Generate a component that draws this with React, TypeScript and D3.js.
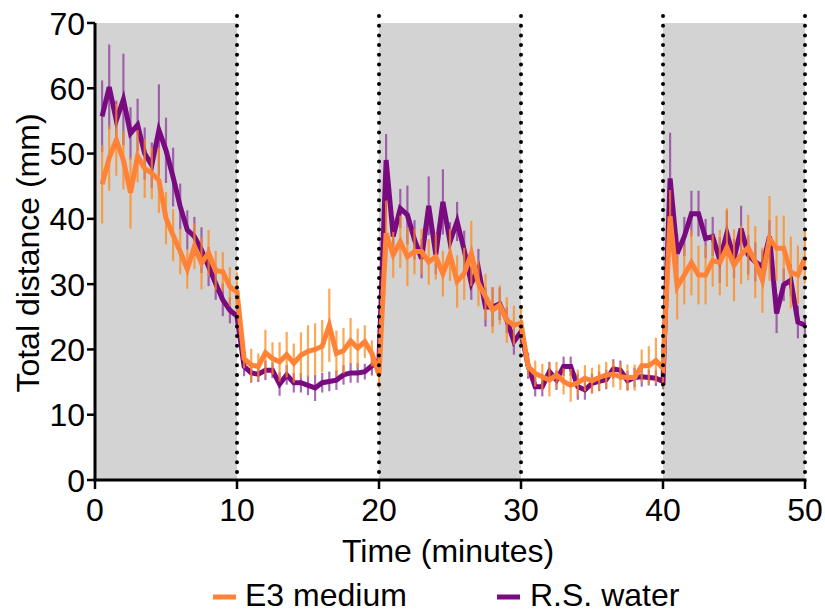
import React from "react";
import * as d3 from "d3";

const TIME: number[] = Array.from({ length: 100 }, (_, i) => (i + 1) * 0.5);

const E3_MEAN: number[] = [
  45.3, 49.3, 52.1, 49.0, 44.0, 49.6, 47.7, 47.0, 45.9, 40.1, 37.5, 35.0, 32.3, 35.8, 33.2, 34.8, 32.1, 31.9, 29.6, 28.8,
  18.6, 17.6, 17.4, 19.5, 18.6, 18.1, 19.2, 17.9, 19.1, 19.7, 20.0, 20.5, 23.7, 19.4, 19.8, 21.3, 20.2, 21.2, 19.4, 16.1,
  37.8, 34.5, 36.5, 34.2, 35.0, 35.0, 33.4, 34.2, 31.6, 34.5, 30.4, 31.6, 34.7, 30.1, 28.1, 26.0, 26.8, 24.5, 23.7, 24.0,
  17.4, 16.3, 15.8, 15.3, 16.1, 15.1, 14.5, 14.9, 15.6, 15.2, 15.7, 16.1, 16.2, 15.8, 15.7, 15.7, 17.5, 17.5, 18.3, 17.1,
  40.4, 29.6, 31.4, 33.3, 31.4, 31.4, 33.6, 33.3, 35.6, 32.9, 34.5, 35.6, 33.4, 30.6, 37.0, 35.5, 35.5, 31.8, 31.4, 34.1,
];
const E3_ERR: number[] = [
  6, 5, 5.5, 4.5, 5.5, 4, 4.5, 4, 5, 4, 4, 3.5, 3, 3.5, 4, 3.5, 3, 3, 3, 3,
  1.5, 2.5, 2, 3.5, 2.5, 3, 3.5, 3, 3.5, 4, 4, 4, 5.6, 3.5, 3.5, 3.5, 3, 2.5, 2, 2,
  5, 3.5, 4, 4.5, 3.5, 3.5, 3.5, 3.5, 3.5, 4, 4, 4, 5, 3.5, 3.5, 3.5, 3, 3.5, 3, 2.5,
  1.5, 2, 2, 2.5, 2, 2, 2.5, 2, 2, 2, 2, 2, 2, 2, 2, 2, 2.5, 3, 3.5, 3,
  4, 5, 4.5, 5, 4.5, 4.5, 4, 5, 6, 5.5, 4.5, 5, 5.5, 5, 6.5, 5, 5, 5.5, 4.5, 4,
];
const RS_MEAN: number[] = [
  55.7, 60.2, 55.1, 58.3, 53.1, 54.4, 50.0, 48.2, 53.6, 50.5, 46.4, 41.9, 38.3, 37.3, 35.2, 32.7, 30.1, 27.6, 26.0, 25.1,
  17.4, 16.4, 16.2, 16.8, 16.8, 14.7, 16.1, 14.9, 14.9, 14.5, 14.1, 14.9, 15.1, 15.3, 16.1, 16.4, 16.4, 16.6, 17.5, 18.5,
  49.0, 37.3, 41.6, 40.6, 36.8, 33.9, 42.0, 34.5, 42.6, 36.5, 39.6, 35.2, 30.1, 32.4, 26.5, 26.5, 27.0, 24.5, 21.2, 22.7,
  17.5, 14.3, 14.3, 16.6, 15.3, 17.4, 17.4, 14.3, 13.8, 14.8, 15.1, 15.4, 17.0, 16.8, 15.2, 15.7, 15.8, 15.7, 15.6, 15.1,
  46.2, 34.7, 37.3, 40.8, 40.8, 37.0, 37.3, 33.7, 37.8, 33.9, 38.5, 34.5, 33.4, 32.7, 37.3, 25.5, 29.9, 30.6, 24.2, 23.7,
];
const RS_ERR: number[] = [
  5.5, 6.5, 3, 7, 4, 4, 4, 3.5, 7, 5, 4.5, 3.5, 3, 3, 3.5, 3, 2.5, 2.5, 2, 1.5,
  1.5, 1.5, 1.2, 1.5, 1.2, 1.8, 1.5, 1.5, 1.5, 1.5, 2, 1.5, 1.5, 1.5, 1.5, 1.5, 1.5, 1.2, 1.5, 1.5,
  4, 3, 3, 4.5, 3, 3, 4.5, 3, 5, 3, 3, 3, 2.5, 3, 3, 3, 2.5, 2, 2, 1.8,
  2, 1.5, 1.5, 1.5, 1.5, 1.5, 1.5, 2, 1.5, 1.5, 1.5, 1.5, 1.5, 1.5, 1.5, 1.5, 1.5, 1.2, 1.2, 1.2,
  7, 3, 3, 3.5, 3.5, 3, 3, 3.5, 3.5, 3, 3.5, 3, 3, 2.5, 2.5, 3, 2.5, 2.5, 2.5, 1.5,
];

const X_TICKS = [0, 10, 20, 30, 40, 50];
const Y_TICKS = [0, 10, 20, 30, 40, 50, 60, 70];
const SHADED: [number, number][] = [[0, 10], [20, 30], [40, 50]];
const BOUNDARIES = [10, 20, 30, 40, 50];
const SERIES_NAMES = ["E3 medium", "R.S. water"];

const ORANGE = "#ff8236";
const PURPLE = "#7a0a80";
const FONT = "'Liberation Sans', Arial, sans-serif";

export default function App() {
  const W = 825, H = 612;
  const x = d3.scaleLinear().domain([0, 50]).range([95, 805]);
  const y = d3.scaleLinear().domain([0, 70]).range([480, 23]);

  const line = d3.line<number>().x((_, i) => x(TIME[i])).y((d) => y(d));

  const series = [
    { mean: RS_MEAN, err: RS_ERR, color: PURPLE, barColor: "#8e3a9c" },
    { mean: E3_MEAN, err: E3_ERR, color: ORANGE, barColor: "#ff8a1a" },
  ];

  return (
    <svg width={W} height={H} style={{ position: "absolute", left: 0, top: 0, background: "#fff" }}>
      {SHADED.map(([a, b], i) => (
        <rect key={i} x={x(a)} y={y(70)} width={x(b) - x(a)} height={y(0) - y(70)} fill="#d3d3d3" />
      ))}
      {series.map((s, si) => (
        <g key={si}>
          {s.mean.map((m, i) => (
            <line key={i} x1={x(TIME[i])} x2={x(TIME[i])} y1={y(m - s.err[i])} y2={y(m + s.err[i])}
              stroke={s.barColor} strokeWidth={2.2} strokeOpacity={0.75} />
          ))}
          <path d={line(s.mean) || ""} fill="none" stroke={s.color} strokeWidth={5} strokeLinejoin="miter" />
        </g>
      ))}
      {BOUNDARIES.map((b) => (
        <line key={b} x1={x(b)} x2={x(b)} y1={y(70) - 7} y2={y(0)} stroke="#000" strokeWidth={4}
          strokeLinecap="round" strokeDasharray="0 9.7" />
      ))}
      <line x1={95} x2={95} y1={y(70)} y2={y(0) + 1.5} stroke="#000" strokeWidth={3} />
      <line x1={x(0) - 1.5} x2={x(50) + 1.5} y1={y(0)} y2={y(0)} stroke="#000" strokeWidth={3} />
      {Y_TICKS.map((t) => (
        <g key={t}>
          <line x1={87} x2={95} y1={y(t)} y2={y(t)} stroke="#000" strokeWidth={2.5} />
          <text x={85} y={y(t)} dy="0.36em" textAnchor="end" fontFamily={FONT} fontSize={32} fill="#000">{t}</text>
        </g>
      ))}
      {X_TICKS.map((t) => (
        <g key={t}>
          <line x1={x(t)} x2={x(t)} y1={y(0)} y2={y(0) + 9} stroke="#000" strokeWidth={2.5} />
          <text x={x(t)} y={521} textAnchor="middle" fontFamily={FONT} fontSize={32} fill="#000">{t}</text>
        </g>
      ))}
      <text x={448} y={562} textAnchor="middle" fontFamily={FONT} fontSize={32} fill="#000">Time (minutes)</text>
      <text transform={`translate(39,253) rotate(-90)`} textAnchor="middle" fontFamily={FONT} fontSize={32} fill="#000">
        Total distance (mm)
      </text>
      <line x1={213} x2={236} y1={597} y2={597} stroke={ORANGE} strokeWidth={5} />
      <text x={245} y={606} fontFamily={FONT} fontSize={32} fill="#000">{SERIES_NAMES[0]}</text>
      <line x1={497} x2={520} y1={597} y2={597} stroke={PURPLE} strokeWidth={5} />
      <text x={530} y={606} fontFamily={FONT} fontSize={32} fill="#000">{SERIES_NAMES[1]}</text>
    </svg>
  );
}
